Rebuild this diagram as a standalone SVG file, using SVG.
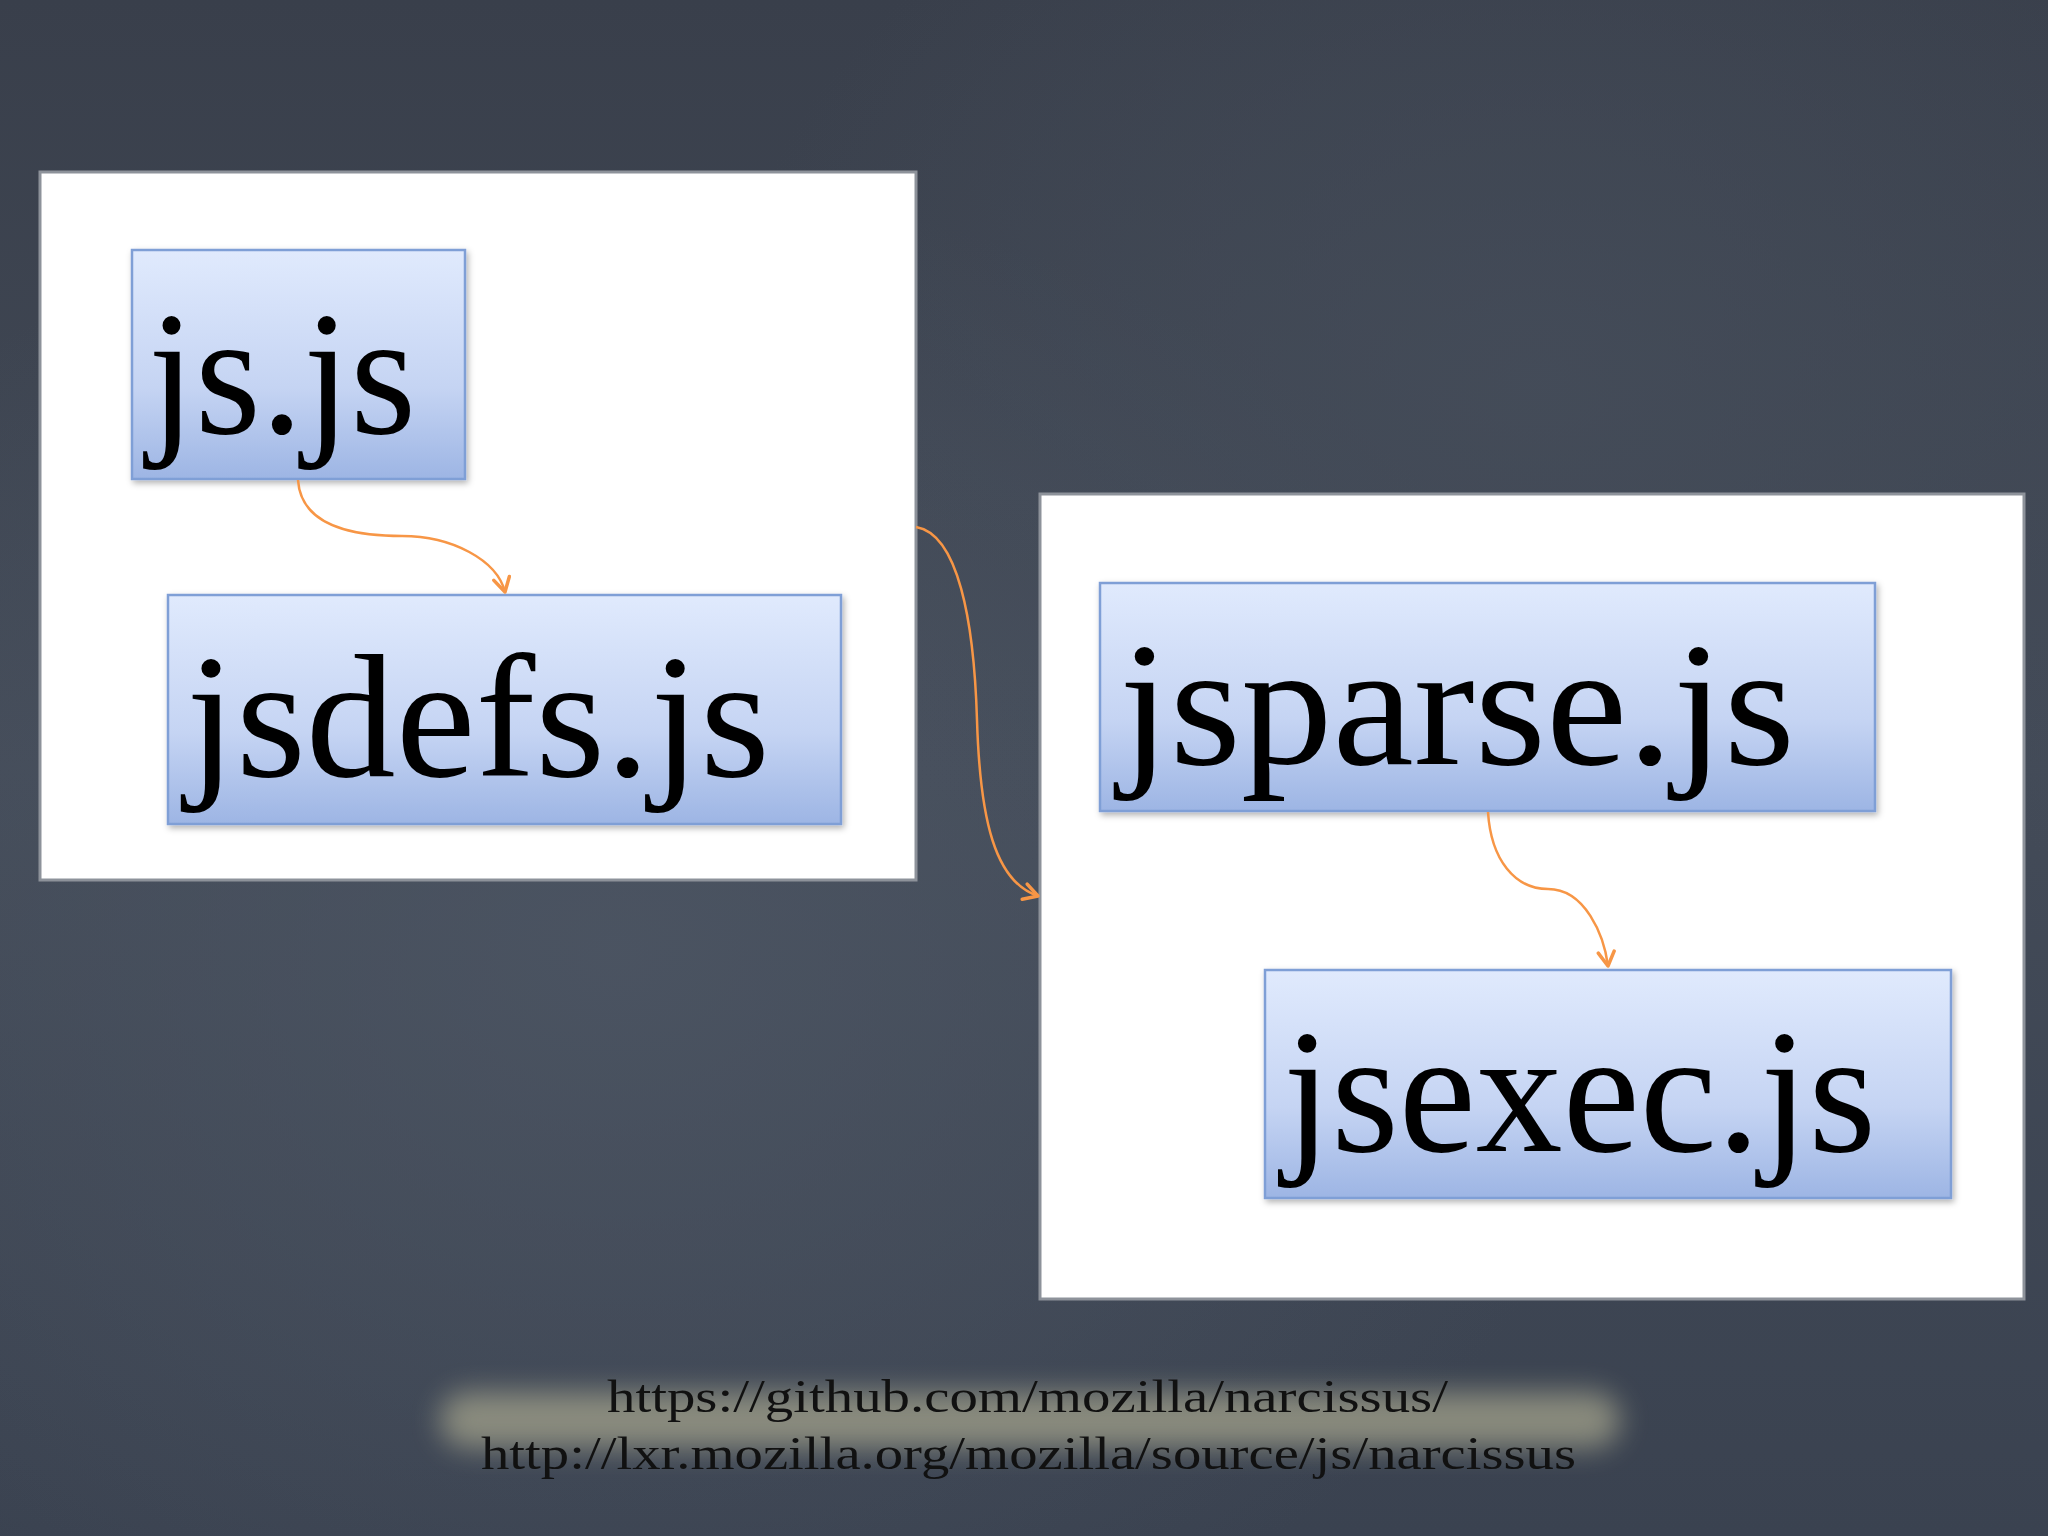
<svg xmlns="http://www.w3.org/2000/svg" width="2048" height="1536" viewBox="0 0 2048 1536">
  <defs>
    <linearGradient id="bg" x1="0" y1="0" x2="0" y2="1">
      <stop offset="0" stop-color="#393f4b"/>
      <stop offset="0.5" stop-color="#434b58"/>
      <stop offset="1" stop-color="#3a4250"/>
    </linearGradient>
    <radialGradient id="spot" cx="0.3" cy="0.62" r="0.5">
      <stop offset="0" stop-color="#4d5664" stop-opacity="0.8"/>
      <stop offset="1" stop-color="#4d5664" stop-opacity="0"/>
    </radialGradient>
    <radialGradient id="spot2" cx="0.75" cy="0.25" r="0.4">
      <stop offset="0" stop-color="#454d5a" stop-opacity="0.8"/>
      <stop offset="1" stop-color="#454d5a" stop-opacity="0"/>
    </radialGradient>
    <linearGradient id="node" x1="0" y1="0" x2="0" y2="1">
      <stop offset="0" stop-color="#e0eafd"/>
      <stop offset="0.6" stop-color="#c5d4f3"/>
      <stop offset="1" stop-color="#9db5e4"/>
    </linearGradient>
    <filter id="shadow" x="-10%" y="-10%" width="120%" height="125%">
      <feDropShadow dx="2" dy="3" stdDeviation="3" flood-color="#000" flood-opacity="0.3"/>
    </filter>
    <filter id="blur" x="-20%" y="-100%" width="140%" height="300%">
      <feGaussianBlur stdDeviation="14"/>
    </filter>
    <marker id="arrow" viewBox="0 0 20 20" refX="18" refY="10" markerWidth="20" markerHeight="20" markerUnits="userSpaceOnUse" orient="auto">
      <path d="M4,2 L18,10 L4,18" fill="none" stroke="#f79646" stroke-width="3.5" stroke-linecap="round" stroke-linejoin="round"/>
    </marker>
    <style>
      .panel { fill: #ffffff; stroke: #8d929a; stroke-width: 3; }
      .node { fill: url(#node); stroke: #7f9fd6; stroke-width: 2.5; filter: url(#shadow); }
      .label { font-family: "Liberation Serif", "DejaVu Serif", serif; font-size: 176px; fill: #000; }
      .url { font-family: "Liberation Serif", "DejaVu Serif", serif; font-size: 46px; fill: #111; }
      .edge { fill: none; stroke: #f79646; stroke-width: 2.5; marker-end: url(#arrow); }
    </style>
  </defs>

  <rect x="0" y="0" width="2048" height="1536" fill="url(#bg)"/>
  <rect x="0" y="0" width="2048" height="1536" fill="url(#spot)"/>
  <rect x="0" y="0" width="2048" height="1536" fill="url(#spot2)"/>

  <g id="panel-left">
    <rect class="panel" x="40" y="172" width="876" height="708"/>
  </g>
  <g id="panel-right">
    <rect class="panel" x="1040" y="494" width="984" height="805"/>
  </g>

  <g id="node-js">
    <rect class="node" x="132" y="250" width="333" height="229"/>
    <text class="label" x="148" y="433" textLength="268" lengthAdjust="spacingAndGlyphs">js.js</text>
  </g>
  <g id="node-jsdefs">
    <rect class="node" x="168" y="595" width="673" height="229"/>
    <text class="label" x="186" y="776" textLength="584" lengthAdjust="spacingAndGlyphs">jsdefs.js</text>
  </g>
  <g id="node-jsparse">
    <rect class="node" x="1100" y="583" width="775" height="228"/>
    <text class="label" x="1119" y="764" textLength="676" lengthAdjust="spacingAndGlyphs">jsparse.js</text>
  </g>
  <g id="node-jsexec">
    <rect class="node" x="1265" y="970" width="686" height="228"/>
    <text class="label" x="1283" y="1151" textLength="593" lengthAdjust="spacingAndGlyphs">jsexec.js</text>
  </g>

  <g id="connectors">
    <path class="edge" d="M298,480 C301,526 352,536 402,536 C452,536 497,560 505,592"/>
    <path class="edge" d="M916,527 C958,534 974,620 977,720 C980,820 995,882 1038,896"/>
    <path class="edge" d="M1488,812 C1491,860 1515,889 1548,889 C1585,889 1604,935 1608,966"/>
  </g>

  <g id="links">
    <rect x="440" y="1392" width="1180" height="56" rx="28" fill="#a3a28b" opacity="0.75" filter="url(#blur)"/>
    <text class="url" x="607" y="1412" textLength="841" lengthAdjust="spacingAndGlyphs">https://github.com/mozilla/narcissus/</text>
    <text class="url" x="481" y="1469" textLength="1095" lengthAdjust="spacingAndGlyphs">http://lxr.mozilla.org/mozilla/source/js/narcissus</text>
  </g>
</svg>
